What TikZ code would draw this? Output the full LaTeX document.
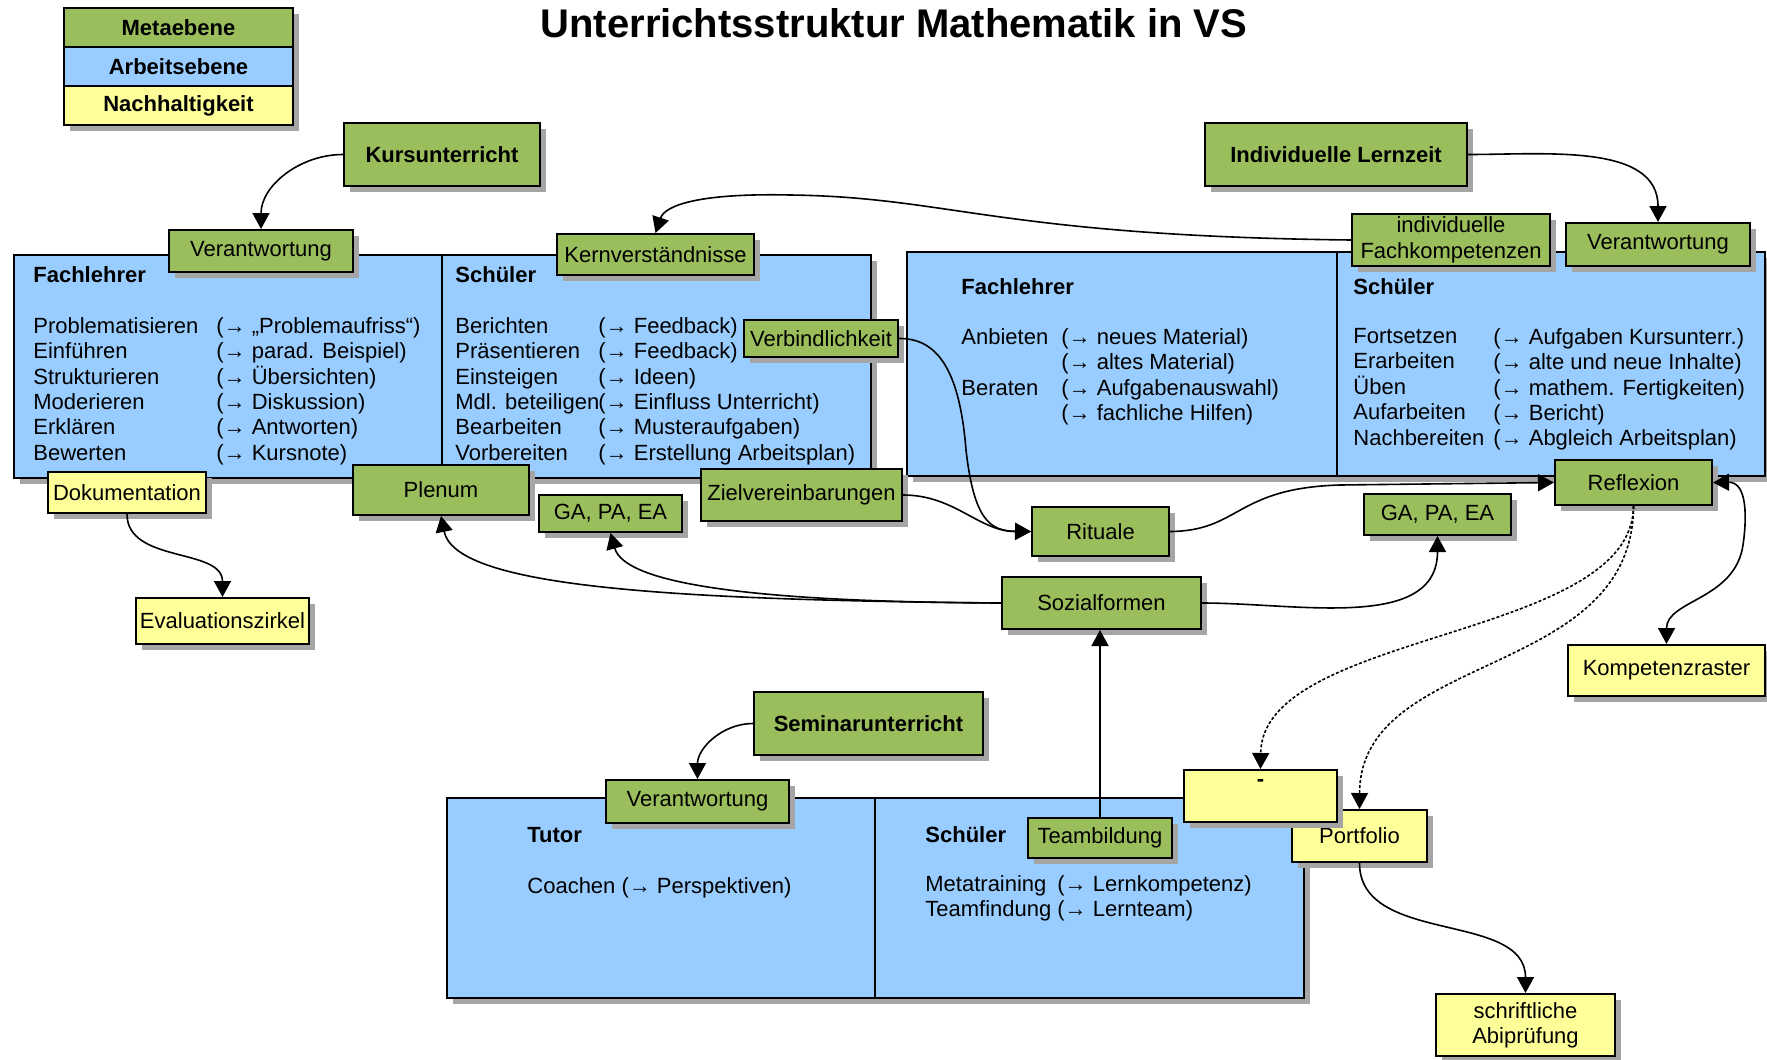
\documentclass[tikz,border=0pt]{standalone}
\usepackage{fontspec}
\setmainfont{Liberation Sans}
\usetikzlibrary{
  arrows.meta,
  positioning,
  shadows
}
\definecolor{boxgruen}{RGB}{155, 190, 92}
\definecolor{boxblau}{RGB}{153, 204, 255}
\definecolor{boxgelb}{RGB}{255, 255, 153}
\definecolor{schattengrau}{RGB}{165, 165, 165}
\newcommand{\schrift}{\fontsize{11}{12.7}\selectfont}
\tikzset{
  % Schatten der Kaesten
  schatten/.style   = {drop shadow={shadow xshift=3pt, shadow yshift=-3pt,
                       fill=schattengrau, opacity=1}},
  % Kaesten
  gruenbox/.style   = {draw=black, line width=1pt, fill=boxgruen, schatten,
                       inner sep=1pt, align=center},
  gelbbox/.style    = {draw=black, line width=1pt, fill=boxgelb, schatten,
                       inner sep=1pt, align=center},
  blaubox/.style    = {draw=black, line width=1pt, fill=boxblau, schatten},
  legende/.style    = {draw=black, line width=1pt, schatten, outer sep=0pt,
                       minimum width=114.5pt, minimum height=19.5pt,
                       font=\schrift\bfseries},
  fett/.style       = {font=\schrift\bfseries},
  % Texte
  titel/.style      = {font=\fontsize{20}{22}\selectfont\bfseries, anchor=base},
  kopf/.style       = {font=\schrift\bfseries, anchor=base west, inner sep=0pt},
  liste/.style      = {anchor=north west, align=left, inner sep=0pt,
                       execute at begin node=\strut},
  % Verbindungen
  spitze/.style     = {Triangle[length=8pt,width=8.5pt]},
  pfeil/.style      = {-{Triangle[length=8pt,width=8.5pt]}, line width=0.8pt},
  punktpfeil/.style = {pfeil, dash pattern=on 1.5pt off 1pt},
  doppelpfeil/.style= {{Triangle[length=8pt,width=8.5pt]}-{Triangle[length=8pt,width=8.5pt]},
                       line width=0.8pt},
}

\begin{document}
\begin{tikzpicture}[x=0.5pt, y=0.5pt, font=\schrift]
  \useasboundingbox (0,0) rectangle (1767,-1060);
  % Titel und Legende
  \node[titel] (titel) at (894,-37) {Unterrichtsstruktur Mathematik in VS};
  \node[legende, fill=boxgruen] (meta) at (178.5,-27.5) {Metaebene};
  \node[legende, fill=boxblau, below=0pt of meta] (arbeit) {Arbeitsebene};
  \node[legende, fill=boxgelb, below=0pt of arbeit] (nachh) {Nachhaltigkeit};

  % Kursunterricht
  \node[gruenbox, fett, minimum width=98pt, minimum height=31.5pt] (kurs) at (442,-154.5) {Kursunterricht};
  \node[blaubox, minimum width=214pt, minimum height=111.5pt] (kfl) at (228,-366.5) {};
  \node[blaubox, minimum width=214.5pt, minimum height=111.5pt] (ksch) at (656.5,-366.5) {};
  \node[kopf] (kflkopf) at (33,-282) {Fachlehrer};
  \node[liste] (kfla) at (33,-317) {Problematisieren\\Einführen\\Strukturieren\\Moderieren\\Erklären\\Bewerten};
  \node[liste] (kflb) at (216,-317) {(→ „Problemaufriss“)\\(→ parad. Beispiel)\\(→ Übersichten)\\(→ Diskussion)\\(→ Antworten)\\(→ Kursnote)};
  \node[kopf] (kschkopf) at (455,-282) {Schüler};
  \node[liste] (kscha) at (455,-317) {Berichten\\Präsentieren\\Einsteigen\\Mdl. beteiligen\\Bearbeiten\\Vorbereiten};
  \node[liste] (kschb) at (598,-317) {(→ Feedback)\\(→ Feedback)\\(→ Ideen)\\(→ Einfluss Unterricht)\\(→ Musteraufgaben)\\(→ Erstellung Arbeitsplan)};
  \node[gruenbox, minimum width=92pt, minimum height=21pt] (kv) at (261,-251) {Verantwortung};
  \node[gruenbox, minimum width=98.5pt, minimum height=20.5pt] (kern) at (655.5,-254.5) {Kernverständnisse};
  \node[gruenbox, minimum width=77pt, minimum height=18.5pt] (verb) at (821,-338.5) {Verbindlichkeit};

  % Individuelle Lernzeit
  \node[gruenbox, fett, minimum width=131pt, minimum height=31.5pt] (ilz) at (1336,-154.5) {Individuelle Lernzeit};
  \node[blaubox, minimum width=215pt, minimum height=112pt] (rfl) at (1122,-364) {};
  \node[blaubox, minimum width=214pt, minimum height=112pt] (rsch) at (1551,-364) {};
  \node[kopf] (rflkopf) at (961,-294) {Fachlehrer};
  \node[liste] (rfla) at (961,-328) {Anbieten\\\strut\\Beraten};
  \node[liste] (rflb) at (1061,-328) {(→ neues Material)\\(→ altes Material)\\(→ Aufgabenauswahl)\\(→ fachliche Hilfen)};
  \node[kopf] (rschkopf) at (1353,-294) {Schüler};
  \node[liste] (rscha) at (1353,-328) {Fortsetzen\\Erarbeiten\\Üben\\Aufarbeiten\\Nachbereiten};
  \node[liste] (rschb) at (1493,-328) {(→ Aufgaben Kursunterr.)\\(→ alte und neue Inhalte)\\(→ mathem. Fertigkeiten)\\(→ Bericht)\\(→ Abgleich Arbeitsplan)};
  \node[gruenbox, minimum width=99pt, minimum height=26pt] (rfk) at (1451,-240) {individuelle\\Fachkompetenzen};
  \node[gruenbox, minimum width=92pt, minimum height=21.5pt] (rv) at (1658,-244.5) {Verantwortung};

  % Mittelteil
  \node[gelbbox, minimum width=79pt, minimum height=20.5pt] (doku) at (127,-492.5) {Dokumentation};
  \node[gruenbox, minimum width=88pt, minimum height=25pt] (plenum) at (441,-490) {Plenum};
  \node[gruenbox, minimum width=71.5pt, minimum height=18.5pt] (gal) at (610.5,-513.5) {GA, PA, EA};
  \node[gruenbox, minimum width=100.5pt, minimum height=26pt] (ziel) at (801.5,-495) {Zielvereinbarungen};
  \node[gelbbox, minimum width=86.5pt, minimum height=23pt] (eval) at (222.5,-621) {Evaluationszirkel};
  \node[gruenbox, minimum width=68.5pt, minimum height=24.5pt] (rit) at (1100.5,-531.5) {Rituale};
  \node[gruenbox, minimum width=73.5pt, minimum height=20.5pt] (gar) at (1437.5,-514.5) {GA, PA, EA};
  \node[gruenbox, minimum width=78.5pt, minimum height=22.5pt] (refl) at (1633.5,-482.5) {Reflexion};
  \node[gruenbox, minimum width=99.5pt, minimum height=26pt] (soz) at (1101.5,-603) {Sozialformen};
  \node[gelbbox, minimum width=98.5pt, minimum height=25.5pt] (komp) at (1666.5,-670.5) {Kompetenzraster};

  % Seminarunterricht
  \node[gruenbox, fett, minimum width=114.5pt, minimum height=31.5pt] (sem) at (868.5,-723.5) {Seminarunterricht};
  \node[blaubox, minimum width=214pt, minimum height=100pt] (tut) at (661,-898) {};
  \node[blaubox, minimum width=214.5pt, minimum height=100pt] (bsch) at (1089.5,-898) {};
  \node[kopf] (tutkopf) at (527,-842) {Tutor};
  \node[liste] (tutl) at (527,-875) {Coachen (→ Perspektiven)};
  \node[kopf] (bschkopf) at (925,-842) {Schüler};
  \node[liste] (bscha) at (925,-875) {Metatraining\\Teamfindung};
  \node[liste] (bschb) at (1057,-875) {(→ Lernkompetenz)\\(→ Lernteam)};
  \node[gruenbox, minimum width=91.5pt, minimum height=21.5pt] (bv) at (697.5,-801.5) {Verantwortung};
  \node[gruenbox, minimum width=72pt, minimum height=20pt] (team) at (1100,-838) {Teambildung};
  \node[gelbbox, minimum width=67.5pt, minimum height=26pt] (port) at (1359.5,-836) {Portfolio};
  \node[gelbbox, minimum width=76.5pt, minimum height=26pt] (leer) at (1260.5,-796) {\smash{\raisebox{4.6pt}{\textbf{-}}}};
  \node[gelbbox, minimum width=89.5pt, minimum height=31pt] (abi) at (1525.5,-1025) {schriftliche\\Abiprüfung};

  % Verbindungen
  \draw[pfeil] (kurs.west) to[out=180, in=90] (kv.north);
  \draw[pfeil] (ilz.east) to[out=0, in=90] (rv.north);
  \draw[pfeil] (rfk.west) .. controls (1000,-236) and (950,-197) .. (790,-195)
               .. controls (700,-193) and (665,-205) .. (kern.north);
  \draw[pfeil] (verb.east) .. controls (940,-338) and (960,-375) .. (966,-450)
               .. controls (974,-520) and (990,-531) .. (rit.west);
  \draw[pfeil] (ziel.east) to[out=0, in=180] (rit.west);
  \draw[pfeil] (rit.east) .. controls (1240,-531) and (1235,-488) .. (1340,-485) -- (refl.west);
  \draw[pfeil] (soz.west) .. controls (650,-600) and (455,-585) .. (plenum.south);
  \draw[pfeil] (soz.west) .. controls (760,-602) and (625,-585) .. (gal.south);
  \draw[pfeil] (soz.east) to[out=0, in=-90] (gar.south);
  \draw[pfeil] (team.north) -- (team.north |- soz.south);
  \draw[punktpfeil] (refl.south) .. controls (1633,-640) and (1262,-630) .. (leer.north);
  \draw[punktpfeil] (refl.south) .. controls (1633,-680) and (1360,-650) .. (port.north);
  \draw[doppelpfeil] (refl.east) .. controls (1745,-482) and (1748,-510) .. (1743,-545)
                     .. controls (1735,-600) and (1666.5,-600) .. (komp.north);
  \draw[pfeil] (doku.south) to[out=-90, in=90] (eval.north);
  \draw[pfeil] (sem.west) to[out=180, in=90] (bv.north);
  \draw[pfeil] (port.south) to[out=-90, in=90] (abi.north);
\end{tikzpicture}
\end{document}
